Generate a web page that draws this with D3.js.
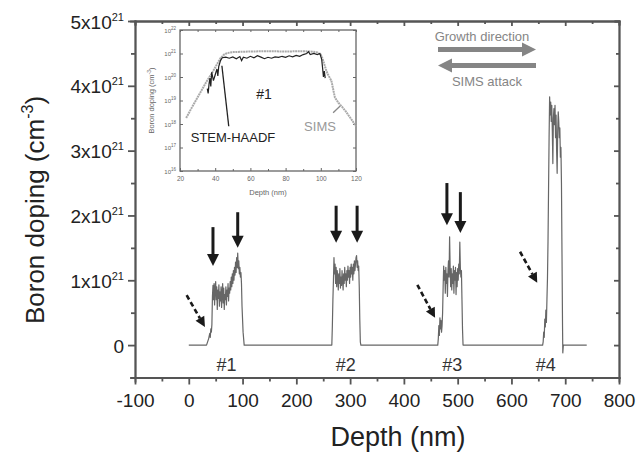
<!DOCTYPE html>
<html>
<head>
<meta charset="utf-8">
<script src="https://cdn.jsdelivr.net/npm/d3@7"></script>
<style>
  body { margin: 0; background: #fff; }
  svg { font-family: 'Liberation Sans', Arial, sans-serif; }
</style>
</head>
<body>
<div id="svg-container"></div>
<script>
// main profile: depth (nm), boron doping (x10^21 cm^-3)
const profile = [
  [0, 0], [33, 0], [35, 0.05], [37, 0.1], [39, 0.18], [40, 0.12], [41, 0.25], [42, 0.2], [43, 0.32],
  [44, 0.75], [45, 0.92], [46, 0.7], [47, 0.95], [48, 0.62], [49, 0.88], [50, 0.98], [51, 0.7],
  [52, 0.9], [53, 0.55], [54, 0.85], [55, 0.72], [56, 0.93], [57, 0.6], [58, 0.82], [59, 0.68],
  [60, 0.9], [61, 0.58], [62, 0.8], [63, 0.95], [64, 0.65], [65, 0.88], [66, 0.55], [67, 0.78],
  [68, 0.7], [69, 0.9], [70, 0.62], [71, 0.85], [72, 0.75], [73, 0.95], [74, 0.68], [75, 0.88],
  [76, 0.8], [77, 0.98], [78, 0.85], [79, 1.05], [80, 0.9], [81, 1.1], [82, 0.95], [83, 1.15],
  [84, 1.0], [85, 1.2], [86, 1.08], [87, 1.28], [88, 1.12], [89, 1.35], [90, 1.2], [91, 1.42],
  [92, 1.18], [93, 1.3], [94, 1.1], [95, 1.2], [96, 1.05], [97, 1.12], [98, 0.95], [99, 0.6],
  [101, 0.2], [103, 0],
  [266, 0], [267, 0.3], [268, 0.7], [269, 1.0], [270, 1.35], [271, 1.1], [272, 1.25], [273, 0.95],
  [274, 1.2], [275, 0.9], [276, 1.15], [277, 1.05], [278, 0.85], [279, 1.1], [280, 0.95], [281, 1.18],
  [282, 0.88], [283, 1.05], [284, 0.92], [285, 1.15], [286, 1.0], [287, 0.85], [288, 1.1], [289, 0.95],
  [290, 1.2], [291, 1.0], [292, 1.1], [293, 0.9], [294, 1.15], [295, 1.0], [296, 1.22], [297, 1.05],
  [298, 1.15], [299, 0.95], [300, 1.2], [301, 1.05], [302, 1.25], [303, 1.1], [304, 1.2], [305, 1.0],
  [306, 1.25], [307, 1.1], [308, 1.3], [309, 1.15], [310, 1.25], [311, 1.35], [312, 1.38], [313, 1.2],
  [314, 1.3], [315, 1.15], [316, 1.22], [317, 0.9], [318, 0.4], [319, 0.05], [320, 0],
  [463, 0], [464, 0.1], [465, 0.3], [466, 0.15], [467, 0.42], [468, 0.25], [469, 0.38], [470, 0.2],
  [471, 0.3], [472, 0.5], [473, 0.9], [474, 1.22], [475, 1.0], [476, 1.15], [477, 0.8], [478, 1.2],
  [479, 0.95], [480, 1.1], [481, 0.75], [482, 1.15], [483, 1.3], [484, 1.05], [485, 1.67], [486, 1.2],
  [487, 0.9], [488, 1.18], [489, 0.85], [490, 1.1], [491, 0.95], [492, 1.22], [493, 0.8], [494, 1.15],
  [495, 1.0], [496, 1.2], [497, 0.78], [498, 1.12], [499, 0.9], [500, 1.18], [501, 1.0], [502, 1.25],
  [503, 1.1], [504, 1.59], [505, 1.2], [506, 1.05], [507, 1.15], [508, 0.7], [509, 0.25], [510, 0],
  [658, 0], [659, 0.05], [660, 0.2], [661, 0.12], [662, 0.4], [663, 0.28], [664, 0.54], [665, 0.35],
  [666, 0.7], [667, 1.03], [668, 1.6], [669, 2.4], [670, 3.2], [671, 3.83], [672, 3.55], [673, 3.75],
  [674, 3.45], [675, 3.7], [676, 3.3], [677, 2.8], [678, 3.5], [679, 3.65], [680, 3.4], [681, 3.7],
  [682, 3.2], [683, 3.55], [684, 3.0], [685, 2.65], [686, 3.3], [687, 3.6], [688, 3.45], [689, 3.2],
  [690, 3.35], [691, 2.9], [692, 3.05], [693, 2.5], [694, 1.4], [695, 0.3], [695.5, -0.12],
  [696.5, 0], [740, 0],
]

// inset: depth (nm), doping (cm^-3)
const simsDepth = [23.5, 26, 29, 32, 35, 38, 41, 43, 45, 47, 50, 60, 70, 80, 90, 95, 98, 100, 101, 102, 103, 104, 106, 108, 110, 112, 114, 116, 118, 120]
const simsDoping = [1.8e18, 4e18, 1e19, 2.5e19, 6.3e19, 1.4e20, 3.5e20, 6.3e20, 9e20, 1.05e21, 1.15e21, 1.22e21, 1.25e21, 1.22e21, 1.25e21, 1.2e21, 1.12e21, 9e20, 6e20, 3.5e20, 2e20, 1.3e20, 7e19, 1.35e19, 8e18, 5.5e18, 3.6e18, 2.2e18, 1.35e18, 8e17]
const stemDepth = [35.5, 36, 36.5, 37, 37.5, 38, 39, 40, 41, 41.5, 42, 43, 44, 46, 48, 50, 52, 54, 55, 56, 58, 60, 62, 64, 66, 68, 70, 72, 74, 76, 78, 80, 82, 84, 86, 88, 90, 92, 93, 94, 96, 98, 99.5, 100.5, 101, 101.5, 102, 102.5]
const stemDoping = [3.2e19, 2e19, 5e19, 9e19, 4e19, 1.6e20, 7e19, 1.25e20, 2.2e20, 1.1e20, 2.8e20, 5e20, 6.6e20, 7e20, 6.3e20, 7.2e20, 6e20, 7.4e20, 5e20, 6.9e20, 6.3e20, 7.6e20, 6.6e20, 8e20, 7e20, 6e20, 6.9e20, 6.3e20, 7.2e20, 6.8e20, 7.6e20, 6.9e20, 8e20, 7.2e20, 8.3e20, 7.6e20, 9e20, 1e21, 1.2e21, 9e20, 1e21, 9e20, 1e21, 5.6e20, 2.5e20, 1e20, 1.8e20, 9e19]

// ticks and labels
const xTicks = [-100, 0, 100, 200, 300, 400, 500, 600, 700, 800]
const yTicks = [0, 1, 2, 3, 4, 5]
const insetXTicks = [20, 40, 60, 80, 100, 120]
const insetYExponents = [16, 17, 18, 19, 20, 21, 22]
const layerNames = ['#1', '#2', '#3', '#4']
const layerLabelDepth = [70, 292, 490, 664]

// arrows marking interfaces (depth nm, doping x10^21)
const solidArrows = [
  { x: 45, top: 1.82, tip: 1.22 },
  { x: 91, top: 2.05, tip: 1.5 },
  { x: 274, top: 2.15, tip: 1.58 },
  { x: 313, top: 2.15, tip: 1.58 },
  { x: 480, top: 2.5, tip: 1.85 },
  { x: 505, top: 2.36, tip: 1.73 },
]
const dashedArrows = [
  { x1: -4, y1: 0.77, x2: 30, y2: 0.28 },
  { x1: 425, y1: 0.93, x2: 458, y2: 0.42 },
  { x1: 616, y1: 1.44, x2: 648, y2: 0.96 },
]

;(function () {
  var svgWidth = 638,
    svgHeight = 452

  var svg = d3
    .select('#svg-container')
    .append('svg')
    .attr('width', svgWidth)
    .attr('height', svgHeight)

  var axisColor = '#555'

  // Scales
  var x = d3.scaleLinear().domain([-100, 800]).range([135, 619])
  var y = d3.scaleLinear().domain([-0.5, 5]).range([377.5, 21])

  function styleAxis(g) {
    g.selectAll('path, line').attr('stroke', axisColor).attr('stroke-width', 1.8)
    g.select('.domain').attr('stroke-linecap', 'square')
  }

  // minor ticks
  var xMinor = d3.range(-50, 800, 100)
  var yMinor = [-0.5, 0.5, 1.5, 2.5, 3.5, 4.5]

  // bottom axis
  svg
    .append('g')
    .attr('transform', `translate(0, ${y(-0.5)})`)
    .call(d3.axisBottom(x).tickValues(xMinor).tickSize(4).tickFormat(''))
    .call(styleAxis)
  svg
    .append('g')
    .attr('transform', `translate(0, ${y(-0.5)})`)
    .call(
      d3
        .axisBottom(x)
        .tickValues(xTicks)
        .tickSize(7)
        .tickSizeOuter(0)
        .tickPadding(9)
        .tickFormat(d => String(d)),
    )
    .call(styleAxis)
    .call(g =>
      g
        .selectAll('text')
        .attr('fill', '#222')
        .style('font-size', '19px')
        .style('font-family', "'Liberation Sans', Arial, sans-serif"),
    )

  // top axis (mirror, inward)
  svg
    .append('g')
    .attr('transform', `translate(0, ${y(5)})`)
    .call(d3.axisTop(x).tickValues(xMinor).tickSize(-3).tickFormat(''))
    .call(styleAxis)
  svg
    .append('g')
    .attr('transform', `translate(0, ${y(5)})`)
    .call(d3.axisTop(x).tickValues(xTicks).tickSize(-5).tickSizeOuter(0).tickFormat(''))
    .call(styleAxis)

  // left axis
  svg
    .append('g')
    .attr('transform', `translate(${x(-100)}, 0)`)
    .call(d3.axisLeft(y).tickValues(yMinor).tickSize(4).tickFormat(''))
    .call(styleAxis)
  var leftAxis = svg
    .append('g')
    .attr('transform', `translate(${x(-100)}, 0)`)
    .call(d3.axisLeft(y).tickValues(yTicks).tickSize(7).tickSizeOuter(0).tickFormat(''))
    .call(styleAxis)

  leftAxis
    .selectAll('.tick')
    .append('text')
    .attr('x', -11)
    .attr('y', 7)
    .attr('text-anchor', 'end')
    .attr('fill', '#222')
    .style('font-size', '19px')
    .each(function (d) {
      var t = d3.select(this)
      if (d === 0) {
        t.text('0')
        return
      }
      t.append('tspan').text(`${d}x10`)
      t.append('tspan').attr('dy', -8).style('font-size', '11px').text('21')
    })

  // right axis (mirror, inward)
  svg
    .append('g')
    .attr('transform', `translate(${x(800)}, 0)`)
    .call(d3.axisRight(y).tickValues(yMinor).tickSize(-3).tickFormat(''))
    .call(styleAxis)
  svg
    .append('g')
    .attr('transform', `translate(${x(800)}, 0)`)
    .call(d3.axisRight(y).tickValues(yTicks).tickSize(-5).tickSizeOuter(0).tickFormat(''))
    .call(styleAxis)

  // axis titles
  svg
    .append('text')
    .attr('x', 398)
    .attr('y', 446)
    .attr('text-anchor', 'middle')
    .attr('fill', '#222')
    .style('font-size', '27px')
    .text('Depth (nm)')

  var yTitle = svg
    .append('text')
    .attr('transform', 'translate(44, 210) rotate(-90)')
    .attr('text-anchor', 'middle')
    .attr('fill', '#222')
    .style('font-size', '26px')
  yTitle.append('tspan').text('Boron doping (cm')
  yTitle.append('tspan').attr('dy', -11).style('font-size', '16px').text('-3')
  yTitle.append('tspan').attr('dy', 11).text(')')

  // profile line
  var line = d3
    .line()
    .x(d => x(d[0]))
    .y(d => y(d[1]))

  svg
    .append('path')
    .datum(profile)
    .attr('fill', 'none')
    .attr('stroke', '#666')
    .attr('stroke-width', 1.2)
    .attr('stroke-linejoin', 'round')
    .attr('d', line)

  // layer labels
  svg
    .selectAll('.layer-label')
    .data(layerNames)
    .enter()
    .append('text')
    .attr('class', 'layer-label')
    .attr('x', (d, i) => x(layerLabelDepth[i]))
    .attr('y', y(-0.4))
    .attr('text-anchor', 'middle')
    .attr('fill', '#333')
    .style('font-size', '18px')
    .text(d => d)

  // solid arrows
  var arrowColor = '#1a1a1a'
  solidArrows.forEach(a => {
    var ax = x(a.x),
      yTop = y(a.top),
      yTip = y(a.tip)
    svg
      .append('line')
      .attr('x1', ax)
      .attr('x2', ax)
      .attr('y1', yTop)
      .attr('y2', yTip - 10)
      .attr('stroke', arrowColor)
      .attr('stroke-width', 3)
    svg
      .append('path')
      .attr('d', `M${ax - 6},${yTip - 12}L${ax + 6},${yTip - 12}L${ax},${yTip}Z`)
      .attr('fill', arrowColor)
  })

  // dashed arrows
  dashedArrows.forEach(a => {
    var x1 = x(a.x1),
      y1 = y(a.y1),
      x2 = x(a.x2),
      y2 = y(a.y2)
    var ang = Math.atan2(y2 - y1, x2 - x1)
    var hl = 10,
      hw = 5
    var bx = x2 - hl * Math.cos(ang),
      by = y2 - hl * Math.sin(ang)
    svg
      .append('line')
      .attr('x1', x1)
      .attr('y1', y1)
      .attr('x2', bx)
      .attr('y2', by)
      .attr('stroke', arrowColor)
      .attr('stroke-width', 2.6)
      .attr('stroke-dasharray', '5,3')
    svg
      .append('path')
      .attr(
        'd',
        `M${bx - hw * Math.sin(ang)},${by + hw * Math.cos(ang)}` +
          `L${bx + hw * Math.sin(ang)},${by - hw * Math.cos(ang)}L${x2},${y2}Z`,
      )
      .attr('fill', arrowColor)
  })

  // growth / SIMS direction
  var grey = '#858585'
  svg
    .append('text')
    .attr('x', 482)
    .attr('y', 41)
    .attr('text-anchor', 'middle')
    .attr('fill', grey)
    .style('font-size', '13px')
    .text('Growth direction')
  svg
    .append('text')
    .attr('x', 487)
    .attr('y', 86)
    .attr('text-anchor', 'middle')
    .attr('fill', grey)
    .style('font-size', '13px')
    .text('SIMS attack')

  svg
    .append('line')
    .attr('x1', 438)
    .attr('x2', 524)
    .attr('y1', 49.5)
    .attr('y2', 49.5)
    .attr('stroke', grey)
    .attr('stroke-width', 5)
  svg.append('path').attr('d', 'M522,42.5L536,49.5L522,56.5Z').attr('fill', grey)
  svg
    .append('line')
    .attr('x1', 450)
    .attr('x2', 536)
    .attr('y1', 65.5)
    .attr('y2', 65.5)
    .attr('stroke', grey)
    .attr('stroke-width', 5)
  svg.append('path').attr('d', 'M452,58.5L438,65.5L452,72.5Z').attr('fill', grey)

  // ---------- Inset ----------
  var ix = d3.scaleLinear().domain([20, 120]).range([180, 356])
  var iy = d3.scaleLog().domain([1e16, 1e22]).range([171, 30])
  var inset = svg.append('g').attr('class', 'inset')
  var insetColor = '#666'

  inset
    .append('rect')
    .attr('x', ix(20))
    .attr('y', iy(1e22))
    .attr('width', ix(120) - ix(20))
    .attr('height', iy(1e16) - iy(1e22))
    .attr('fill', 'none')
    .attr('stroke', insetColor)
    .attr('stroke-width', 1.3)

  function styleInset(g) {
    g.select('.domain').remove()
    g.selectAll('line').attr('stroke', insetColor).attr('stroke-width', 1)
    g.selectAll('text')
      .attr('fill', '#666')
      .style('font-size', '6.5px')
      .style('font-family', "'Liberation Sans', Arial, sans-serif")
  }

  var insetMinor = d3.range(30, 120, 20)
  inset
    .append('g')
    .attr('transform', `translate(0, ${iy(1e16)})`)
    .call(d3.axisBottom(ix).tickValues(insetXTicks).tickSize(-3).tickPadding(5))
    .call(styleInset)
  inset
    .append('g')
    .attr('transform', `translate(0, ${iy(1e16)})`)
    .call(d3.axisBottom(ix).tickValues(insetMinor).tickSize(-2).tickFormat(''))
    .call(styleInset)
  inset
    .append('g')
    .attr('transform', `translate(0, ${iy(1e22)})`)
    .call(d3.axisTop(ix).tickValues(insetXTicks.concat(insetMinor)).tickSize(-2).tickFormat(''))
    .call(styleInset)

  var decades = insetYExponents.map(e => Math.pow(10, e))
  var insetLeft = inset
    .append('g')
    .attr('transform', `translate(${ix(20)}, 0)`)
    .call(d3.axisLeft(iy).tickValues(decades).tickSize(-3).tickFormat(''))
    .call(styleInset)
  inset
    .append('g')
    .attr('transform', `translate(${ix(120)}, 0)`)
    .call(d3.axisRight(iy).tickValues(decades).tickSize(-3).tickFormat(''))
    .call(styleInset)

  insetLeft
    .selectAll('.tick')
    .append('text')
    .attr('x', -4)
    .attr('y', 2)
    .attr('text-anchor', 'end')
    .attr('fill', '#666')
    .style('font-size', '6px')
    .each(function (d, i) {
      var t = d3.select(this)
      t.append('tspan').text('10')
      t.append('tspan').attr('dy', -3).style('font-size', '4.5px').text(insetYExponents[i])
    })

  inset
    .append('text')
    .attr('x', ix(70))
    .attr('y', 195)
    .attr('text-anchor', 'middle')
    .attr('fill', '#666')
    .style('font-size', '7.5px')
    .text('Depth (nm)')

  var iyTitle = inset
    .append('text')
    .attr('transform', `translate(154, ${iy(1e19)}) rotate(-90)`)
    .attr('text-anchor', 'middle')
    .attr('fill', '#666')
    .style('font-size', '7.5px')
  iyTitle.append('tspan').text('Boron doping (cm')
  iyTitle.append('tspan').attr('dy', -3).style('font-size', '5px').text('-3')
  iyTitle.append('tspan').attr('dy', 3).text(')')

  var insetLine = d3.line()

  inset
    .append('path')
    .attr(
      'd',
      insetLine(simsDepth.map((d, i) => [ix(d), iy(simsDoping[i])])),
    )
    .attr('fill', 'none')
    .attr('stroke', '#aaa')
    .attr('stroke-width', 2)
    .attr('stroke-dasharray', '2,0.6')

  inset
    .append('path')
    .attr(
      'd',
      insetLine(stemDepth.map((d, i) => [ix(d), iy(stemDoping[i])])),
    )
    .attr('fill', 'none')
    .attr('stroke', '#222')
    .attr('stroke-width', 1.2)

  // pointer lines & labels
  inset
    .append('line')
    .attr('x1', ix(47.7))
    .attr('y1', iy(8e17))
    .attr('x2', ix(43.8))
    .attr('y2', iy(3e20))
    .attr('stroke', '#222')
    .attr('stroke-width', 1.3)
  inset
    .append('line')
    .attr('x1', ix(107))
    .attr('y1', iy(3e18))
    .attr('x2', ix(111))
    .attr('y2', iy(5.8e18))
    .attr('stroke', '#888')
    .attr('stroke-width', 1.3)

  inset
    .append('text')
    .attr('x', 233)
    .attr('y', 142)
    .attr('text-anchor', 'middle')
    .attr('fill', '#222')
    .style('font-size', '13px')
    .text('STEM-HAADF')
  inset
    .append('text')
    .attr('x', 320)
    .attr('y', 131)
    .attr('text-anchor', 'middle')
    .attr('fill', '#999')
    .style('font-size', '13px')
    .text('SIMS')
  inset
    .append('text')
    .attr('x', 264)
    .attr('y', 99)
    .attr('text-anchor', 'middle')
    .attr('fill', '#222')
    .style('font-size', '14px')
    .text('#1')
})()
</script>
</body>
</html>
